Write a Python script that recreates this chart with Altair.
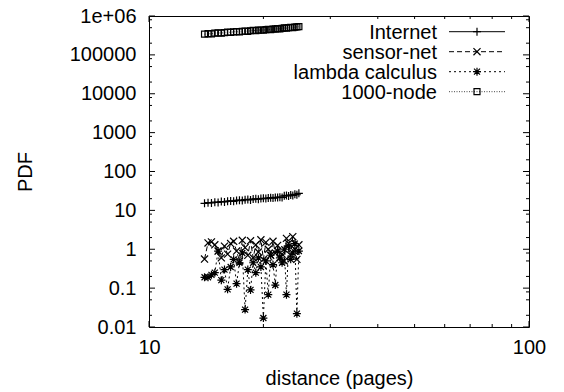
import altair as alt
import pandas as pd

# ---- data ----
x_vals = [14.0, 14.3, 14.6, 14.9, 15.2, 15.5, 15.8, 16.1, 16.4, 16.7, 17.0, 17.3,
          17.6, 17.9, 18.2, 18.5, 18.8, 19.1, 19.4, 19.7, 20.0, 20.3, 20.6, 20.9,
          21.2, 21.5, 21.8, 22.1, 22.4, 22.7, 23.0, 23.3, 23.6, 23.9, 24.2, 24.5, 24.8]

internet = [15.2, 15.8, 15.5, 16.3, 16.0, 16.8, 16.5, 17.2, 17.5, 17.1, 18.0, 18.3,
            17.9, 18.8, 19.1, 18.6, 19.5, 19.8, 19.3, 20.1, 20.5, 20.1, 20.8, 21.2,
            20.7, 21.5, 21.3, 21.9, 21.5, 23.8, 24.3, 23.5, 24.8, 24.2, 25.8, 25.2, 27.5]

sensor_net = [0.56, 1.45, 1.55, 1.3, 0.9, 0.6, 1.2, 0.75, 1.4, 1.6, 0.9, 0.5,
              1.7, 1.1, 0.7, 1.65, 0.6, 1.3, 0.85, 1.75, 0.55, 1.5, 1.0, 0.7,
              1.6, 0.8, 1.25, 0.6, 0.75, 0.5, 1.9, 1.4, 0.7, 2.1, 1.0, 0.55, 1.3]

lambda_calc = [0.19, 0.19, 0.22, 0.25, 0.9, 0.16, 0.3, 0.093, 0.35, 0.55, 0.13, 0.45,
               0.8, 0.028, 0.3, 0.09, 0.45, 0.25, 0.6, 0.35, 0.017, 0.5, 0.068, 0.7,
               0.4, 0.12, 0.9, 0.6, 0.45, 1.0, 0.068, 1.2, 0.55, 0.8, 1.4, 0.022, 0.9]

node_1000 = [340000, 352000, 348000, 362000, 368000, 364000, 375000, 384000, 379000,
             392000, 397000, 390000, 405000, 410000, 402000, 418000, 425000, 419000,
             432000, 437000, 430000, 446000, 452000, 447000, 460000, 465000, 474000,
             469000, 483000, 492000, 486000, 500000, 510000, 504000, 517000, 524000, 535000]

series_names = ["Internet", "sensor-net", "lambda calculus", "1000-node"]
series_values = [internet, sensor_net, lambda_calc, node_1000]

y_tick_values = [0.01, 0.1, 1, 10, 100, 1000, 10000, 100000, 1000000]
y_tick_labels = ["0.01", "0.1", "1", "10", "100", "1000", "10000", "100000", "1e+06"]
x_tick_values = [10, 100]
x_minor = [20, 30, 40, 50, 60, 70, 80, 90]
y_minor = [m * d for d in [0.01, 0.1, 1, 10, 100, 1000, 10000, 100000] for m in (2, 5, 8)]

# ---- styles ----
W, H = 380, 311
FONT = "Liberation Sans"
shapes = [
    "M-1,0L1,0M0,-1L0,1",
    "M-1,-1L1,1M-1,1L1,-1",
    "M-1,0L1,0M0,-1L0,1M-0.75,-0.75L0.75,0.75M-0.75,0.75L0.75,-0.75",
    "M-1,-1L1,-1L1,1L-1,1Z",
]
sizes = [64, 50, 64, 36]
dashes = [[1, 0], [5, 3], [2, 3], [1, 1.5]]
line_colors = ["black", "black", "black", "#444444"]

xscale = alt.Scale(type="log", domain=[10, 100], nice=False)
yscale = alt.Scale(type="log", domain=[0.01, 1000000], nice=False)

label_expr = "[" + ",".join("'" + s + "'" for s in y_tick_labels) + "][round(log(datum.value)/LN10)+2]"

layers = []
for i, (name, vals) in enumerate(zip(series_names, series_values)):
    df = pd.DataFrame({"x": x_vals, "y": vals})
    base = alt.Chart(df)
    enc = dict(
        x=alt.X("x:Q", scale=xscale,
                axis=alt.Axis(values=x_tick_values, format="d", title="distance (pages)",
                              grid=False, domain=False, ticks=False, tickSize=0,
                              labelFontSize=20, labelFont=FONT, labelColor="black",
                              labelPadding=10, labelFlush=False,
                              titleFontSize=20, titleFont=FONT, titleFontWeight="normal",
                              titleColor="black", titlePadding=11)),
        y=alt.Y("y:Q", scale=yscale,
                axis=alt.Axis(values=y_tick_values, labelExpr=label_expr, title="PDF",
                              grid=False, domain=False, ticks=False, tickSize=0,
                              labelFontSize=20, labelFont=FONT, labelColor="black",
                              labelPadding=13, labelFlush=False,
                              titleFontSize=20, titleFont=FONT, titleFontWeight="normal",
                              titleColor="black", titlePadding=34)),
    )
    layers.append(base.mark_line(color=line_colors[i], strokeWidth=1,
                                 strokeDash=dashes[i]).encode(**enc))
    layers.append(base.mark_point(shape=shapes[i], size=sizes[i], filled=False,
                                  stroke="black", strokeWidth=1.2, opacity=1).encode(**enc))

# ---- inward ticks on all four sides ----
def xticks(vals, length):
    d = pd.DataFrame({"t": vals})
    c = alt.Chart(d)
    bot = c.mark_rule(color="black", strokeWidth=1).encode(
        x=alt.X("t:Q", scale=xscale), y=alt.value(H), y2=alt.value(H - length))
    top = c.mark_rule(color="black", strokeWidth=1).encode(
        x=alt.X("t:Q", scale=xscale), y=alt.value(0), y2=alt.value(length))
    return [bot, top]

def yticks(vals, length):
    d = pd.DataFrame({"t": vals})
    c = alt.Chart(d)
    left = c.mark_rule(color="black", strokeWidth=1).encode(
        y=alt.Y("t:Q", scale=yscale), x=alt.value(0), x2=alt.value(length))
    right = c.mark_rule(color="black", strokeWidth=1).encode(
        y=alt.Y("t:Q", scale=yscale), x=alt.value(W), x2=alt.value(W - length))
    return [left, right]

layers += xticks(x_tick_values, 6) + xticks(x_minor, 3)
layers += yticks(y_tick_values, 6) + yticks(y_minor, 3)

# ---- gnuplot-style key ----
one = pd.DataFrame({"a": [0]})
row_y = [15.7, 35.7, 55.7, 75.7]
for i, name in enumerate(series_names):
    c = alt.Chart(one)
    layers.append(c.mark_text(text=name, align="right", baseline="middle", font=FONT,
                              fontSize=20, color="black", dy=1).encode(
        x=alt.value(288), y=alt.value(row_y[i])))
    layers.append(c.mark_rule(color=line_colors[i], strokeWidth=1, strokeDash=dashes[i]).encode(
        x=alt.value(300), x2=alt.value(356), y=alt.value(row_y[i])))
    layers.append(c.mark_point(shape=shapes[i], size=sizes[i], filled=False, stroke="black",
                               strokeWidth=1.2, opacity=1).encode(
        x=alt.value(328), y=alt.value(row_y[i])))

chart = alt.layer(*layers).properties(
    width=W, height=H,
    autosize=alt.AutoSizeParams(type="none"),
    padding={"left": 141, "top": 8, "right": 27, "bottom": 62},
    background="white",
).configure_view(stroke="black", strokeWidth=1)

chart.save("out.html", embed_options={"renderer": "svg", "actions": False})
